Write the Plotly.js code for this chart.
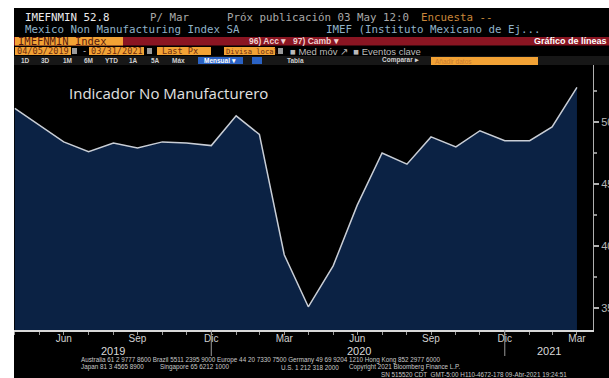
<!DOCTYPE html>
<html><head><meta charset="utf-8">
<script src="https://cdn.plot.ly/plotly-3.0.1.min.js"></script>
<style>html,body{margin:0;padding:0;background:#fff}#c{width:609px;height:378px}</style>
</head><body><div id="c"></div>
<script>
// ---- data ----
const months = ['2019-04-30','2019-05-31','2019-06-30','2019-07-31','2019-08-31','2019-09-30','2019-10-31','2019-11-30','2019-12-31',
  '2020-01-31','2020-02-29','2020-03-31','2020-04-30','2020-05-31','2020-06-30','2020-07-31','2020-08-31','2020-09-30','2020-10-31','2020-11-30','2020-12-31',
  '2021-01-31','2021-02-28','2021-03-31'];
const values = [51.1, 49.7, 48.4, 47.6, 48.3, 47.9, 48.4, 48.3, 48.1,
  50.5, 49.0, 39.3, 35.1, 38.4, 43.3, 47.5, 46.6, 48.8, 48.0, 49.3, 48.5,
  48.5, 49.6, 52.8];
const monthNames = ['Ene','Feb','Mar','Abr','May','Jun','Jul','Ago','Sep','Oct','Nov','Dic'];
const labeledMonths = ['Mar','Jun','Sep','Dic'];
const yTicks = [35, 40, 45, 50];
const years = ['2019', '2020', '2021'];
const chartTitle = 'Indicador No Manufacturero';
const periodButtons = ['1D','3D','1M','6M','YTD','1A','5A','Máx'];

// ---- geometry helpers (pixel -> paper) ----
const L = 14, R = 593, T = 65, B = 330;
const PX = x => (x - L) / (R - L);
const PY = y => (B - y) / (B - T);
const xRange = ['2019-04-29', '2021-04-20'];

const tickText = months.map(d => {
  const n = monthNames[parseInt(d.slice(5, 7), 10) - 1];
  return labeledMonths.includes(n) ? n : '';
});

const shapes = [];
const ann = [];
function rect(x0, x1, y0, y1, color) {
  shapes.push({type: 'rect', xref: 'paper', yref: 'paper', x0: PX(x0), x1: PX(x1), y0: PY(y1), y1: PY(y0),
    fillcolor: color, line: {width: 0}, layer: 'above'});
}
function txt(x, y, text, size, color, family, anchor) {
  ann.push({xref: 'paper', yref: 'paper', x: PX(x), y: PY(y), text: text, showarrow: false,
    xanchor: anchor || 'left', yanchor: 'middle', borderpad: 0,
    font: {size: size, color: color, family: family || 'DejaVu Sans Mono'}});
}
// white border of the screenshot
rect(0, 14, 0, 378, '#ffffff');
rect(0, 609, 0, 8, '#ffffff');
// header row 1 & 2
txt(24, 17, 'IMEFNMIN 52.8', 10.8, '#ececec');
txt(149, 17, 'P/ Mar', 10.8, '#a9a9a9');
txt(226, 17, 'Próx publicación 03 May 12:0', 10.8, '#a9a9a9');
txt(420, 17, 'Encuesta --', 10.8, '#c8873a');
txt(24, 29, 'Mexico Non Manufacturing Index SA', 10.8, '#8fb2c8');
txt(325, 29, 'IMEF (Instituto Mexicano de Ej...', 10.8, '#8fb2c8');
// row 3 red bar
rect(14, 609, 37, 45.5, '#8a1522');
rect(15, 123, 37, 45.5, '#f2a235');
txt(17, 41.3, 'IMEFNMIN Index', 10.5, '#5a1a10');
txt(248, 41.3, '<b>96) Acc ▾</b>', 8.5, '#f0d0d0', 'Liberation Sans');
txt(292, 41.3, '<b>97) Camb ▾</b>', 8.5, '#f0d0d0', 'Liberation Sans');
txt(608, 41.3, '<b>Gráfico de líneas</b>', 9, '#ffffff', 'Liberation Sans', 'right');
// row 4
rect(15, 71, 47, 55, '#f2a235');
rect(72, 77, 48, 54, '#9a9a9a');
rect(89, 144, 47, 55, '#f2a235');
rect(147, 152, 48, 54, '#9a9a9a');
rect(157, 211, 47, 55, '#f2a235');
rect(224, 275, 47, 55, '#f2a235');
rect(278, 283, 48, 54, '#9a9a9a');
txt(16, 51, '04/05/2019', 8.6, '#6a2a10');
txt(81, 51, '-', 8.5, '#cccccc');
txt(90, 51, '03/31/2021', 8.6, '#6a2a10');
txt(161, 51, 'Last Px', 8.6, '#6a2a10');
txt(225, 51, 'Divisa local', 7.2, '#6a2a10');
txt(289, 51, '■ Med móv ↗  ■ Eventos clave', 9.5, '#bbbbbb', 'Liberation Sans');
// row 5 toolbar
rect(14, 609, 56, 65, '#171717');
const btnX = [25, 45, 67, 88, 111, 133, 155, 178];
periodButtons.forEach((b, i) => txt(btnX[i], 60.5, '<b>' + b + '</b>', 6.5, '#d0d0d0', 'Liberation Sans', 'center'));
rect(198, 243, 57, 64, '#2a62c4');
txt(203, 60.5, '<b>Mensual ▾</b>', 6.5, '#ffffff', 'Liberation Sans');
rect(252, 262, 57, 64, '#2a62c4');
txt(286, 60.5, '<b>Tabla</b>', 6.5, '#d0d0d0', 'Liberation Sans');
txt(381, 60.5, '<b>Comparar ▸</b>', 6.5, '#d0d0d0', 'Liberation Sans');
rect(431, 538, 57, 65, '#f2a235');
txt(434, 61, 'Añadir datos', 6.5, '#c87a30', 'Liberation Sans');
// chart title
txt(168, 93, chartTitle, 15, '#e2e2e2', 'Open Sans', 'center');
// footer
txt(80, 360, 'Australia 61 2 9777 8600 Brazil 5511 2395 9000 Europe 44 20 7330 7500 Germany 49 69 9204 1210 Hong Kong 852 2977 6000', 6.3, '#c8c8c8', 'Liberation Sans');
txt(80, 367, 'Japan 81 3 4565 8900', 6.3, '#c8c8c8', 'Liberation Sans');
txt(159, 367, 'Singapore 65 6212 1000', 6.3, '#c8c8c8', 'Liberation Sans');
txt(280, 367, 'U.S. 1 212 318 2000', 6.3, '#c8c8c8', 'Liberation Sans');
txt(348, 367, 'Copyright 2021 Bloomberg Finance L.P.', 6.3, '#c8c8c8', 'Liberation Sans');
txt(380, 374, 'SN 515520 CDT  GMT-5:00 H110-4672-178 09-Abr-2021 19:24:51', 6.3, '#c8c8c8', 'Liberation Sans');

// year labels and separators (from axis range and data dates)
const r0 = Date.parse(xRange[0]), r1 = Date.parse(xRange[1]);
years.forEach(y => {
  const a = Math.max(r0, Date.parse(y + '-01-01'));
  const b = Math.min(r1, Date.parse((+y + 1) + '-01-01'));
  const mid = new Date((a + b) / 2).toISOString().slice(0, 10);
  ann.push({xref: 'x', yref: 'paper', x: mid, y: PY(350.5), text: y, showarrow: false,
    xanchor: 'center', yanchor: 'middle', font: {size: 11, color: '#d8d8d8', family: 'Liberation Sans'}});
});
months.forEach(d => {
  if (d.slice(5, 7) === '12') {
    shapes.push({type: 'line', xref: 'x', yref: 'paper', x0: d, x1: d, y0: 0, y1: PY(356),
      line: {color: '#9a9a9a', width: 1}});
  }
});

const trace = {
  x: months, y: values, type: 'scatter', mode: 'lines',
  fill: 'tozeroy', fillcolor: '#0b2244',
  line: {color: '#c9ced6', width: 1.5}, hoverinfo: 'skip'
};

const layout = {
  width: 609, height: 378,
  margin: {l: L, r: 609 - R, t: T, b: 378 - B, pad: 0},
  paper_bgcolor: '#000000', plot_bgcolor: '#000000',
  showlegend: false,
  xaxis: {
    type: 'date', range: xRange, tickmode: 'array', tickvals: months, ticktext: tickText,
    ticks: 'outside', ticklen: 3, tickcolor: '#9a9a9a', tickwidth: 1, ticklabelstandoff: -5,
    showline: true, linecolor: '#d8d8d8', linewidth: 1.5, showgrid: false, zeroline: false,
    tickfont: {size: 10, color: '#d0d0d0', family: 'Liberation Sans'}
  },
  yaxis: {
    side: 'right', range: [33.23, 54.6], tickmode: 'array', tickvals: yTicks,
    ticks: 'outside', ticklen: 5, tickcolor: '#b0b0b0', tickwidth: 1.5,
    minor: {dtick: 2.5, ticks: 'outside', ticklen: 3, tickcolor: '#909090', showgrid: false},
    showline: true, linecolor: '#b0b0b0', linewidth: 1, showgrid: false, zeroline: false,
    tickfont: {size: 11, color: '#b8b8b8', family: 'Liberation Sans'}
  },
  shapes: shapes, annotations: ann
};
Plotly.newPlot('c', [trace], layout, {displayModeBar: false, staticPlot: true});
</script></body></html>
